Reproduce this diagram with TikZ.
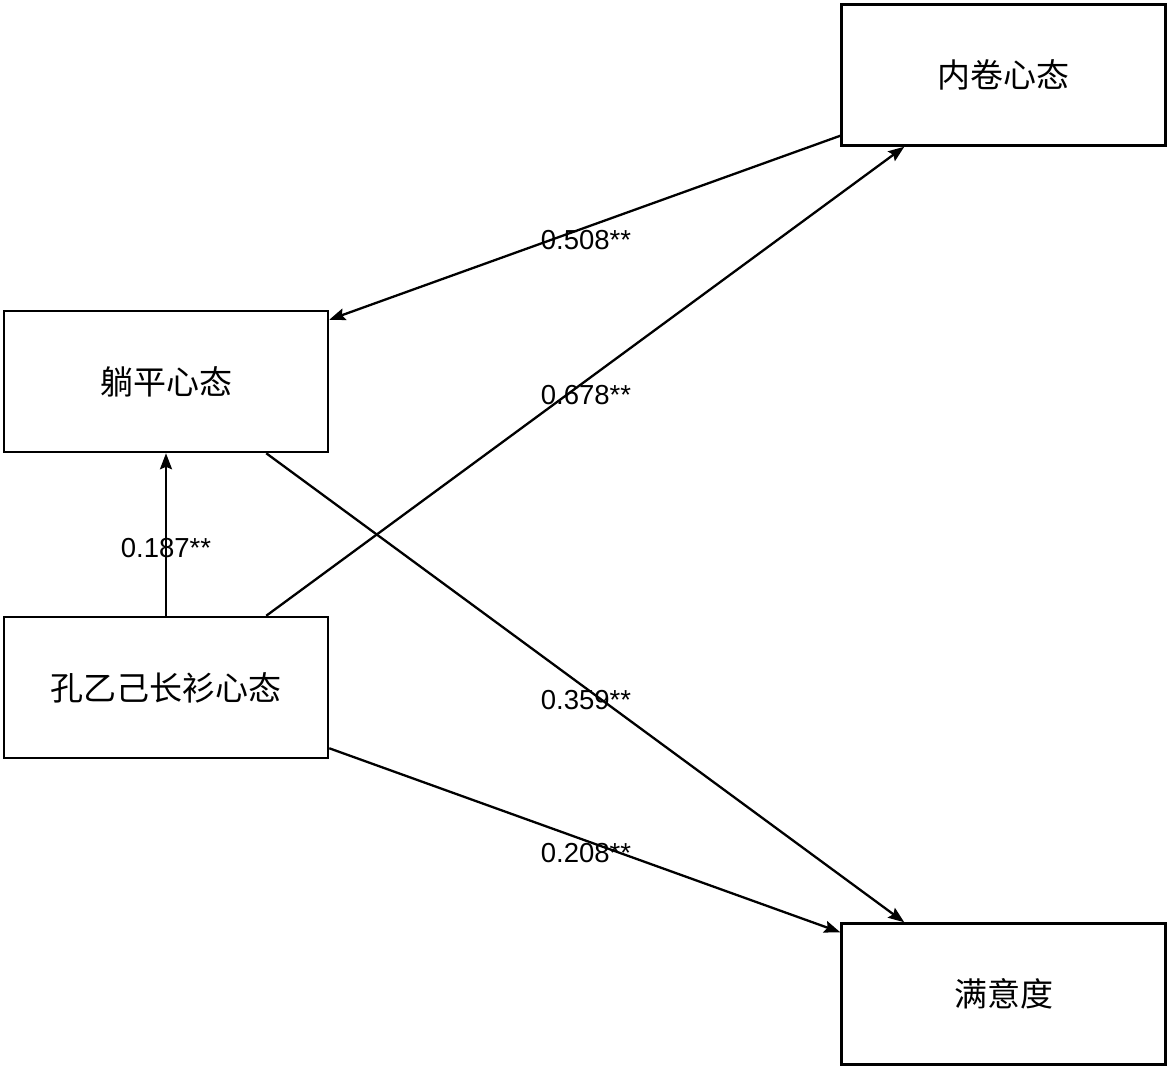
\documentclass[tikz,border=0pt]{standalone}
\usepackage{fontspec}
\setmainfont{Liberation Sans}
\newfontfamily\cjk{Noto Sans CJK SC}
\usetikzlibrary{arrows.meta}
\begin{document}
\begin{tikzpicture}[x=1pt,y=-1pt,
  box/.style={draw,line width=2.5pt,minimum width=324pt,minimum height=141pt,inner sep=0pt,font=\cjk\fontsize{33}{38}\selectfont},
  conn/.style={line width=2.3pt,-{Stealth[length=16pt,width=12pt,inset=2.5pt]}},
  lab/.style={font=\fontsize{27.5}{32}\selectfont,inner sep=0pt}]
\useasboundingbox (0,0) rectangle (1169,1069);
\node[box] (nj) at (1003.5,75) {内卷心态};
\node[box] (tp) at (166,381.5) {躺平心态};
\node[box] (ky) at (166,687.5) {孔乙己长衫心态};
\node[box] (my) at (1003.5,994) {满意度};
\draw[conn] ([yshift=11pt]nj.south west) -- ([yshift=-10pt]tp.north east);
\draw[conn] ([xshift=-63pt]ky.north east) -- ([xshift=64pt]nj.south west);
\draw[conn] (ky.north) -- (tp.south);
\draw[conn] ([xshift=-63pt]tp.south east) -- ([xshift=64pt]my.north west);
\draw[conn] ([yshift=11pt]ky.south east) -- ([yshift=-10pt]my.north west);
\node[lab] (l1) at (586,240) {0.508**};
\node[lab] (l2) at (586,395) {0.678**};
\node[lab] (l3) at (166,548) {0.187**};
\node[lab] (l4) at (586,700) {0.359**};
\node[lab] (l5) at (586,853) {0.208**};
\end{tikzpicture}
\end{document}
